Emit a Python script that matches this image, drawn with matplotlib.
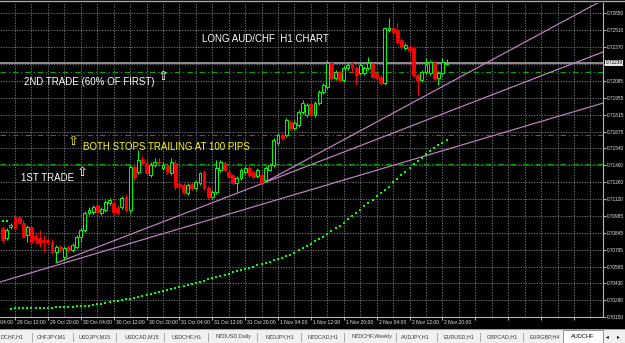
import numpy as np
import matplotlib
matplotlib.use("Agg")
import matplotlib.pyplot as plt
import matplotlib.transforms as mtransforms
from matplotlib.patches import Rectangle
from matplotlib.lines import Line2D

plt.rcParams['font.family'] = ['Liberation Sans', 'DejaVu Sans']

# AUDCHF H1 bars, left to right
opens = [0.70883, 0.70801, 0.70891, 0.70973, 0.70973, 0.70924, 0.70825, 0.70891, 0.70817, 0.70801,
         0.70784, 0.70784, 0.70768, 0.70686, 0.70727, 0.70644, 0.70727, 0.70702, 0.70727, 0.70809,
         0.70866, 0.71006, 0.71014, 0.71072, 0.71006, 0.71031, 0.71088, 0.71088, 0.71047, 0.71055,
         0.71138, 0.71031, 0.71384, 0.71343, 0.71450, 0.71417, 0.71318, 0.71401, 0.71425, 0.71376,
         0.71401, 0.71335, 0.71417, 0.71245, 0.71236, 0.71171, 0.71245, 0.71212, 0.71253, 0.71343,
         0.71212, 0.71138, 0.71179, 0.71360, 0.71417, 0.71343, 0.71318, 0.71253, 0.71294, 0.71343,
         0.71376, 0.71343, 0.71310, 0.71318, 0.71277, 0.71360, 0.71401, 0.71582, 0.71647, 0.71647,
         0.71754, 0.71705, 0.71729, 0.71836, 0.71812, 0.71902, 0.71812, 0.71910, 0.72001, 0.72042,
         0.72239, 0.72116, 0.72165, 0.72099, 0.72198, 0.72239, 0.72198, 0.72157, 0.72157, 0.72198,
         0.72231, 0.72157, 0.72124, 0.72075, 0.72510, 0.72527, 0.72510, 0.72428, 0.72362, 0.72371,
         0.72362, 0.72140, 0.72099, 0.72165, 0.72157, 0.72239, 0.72116, 0.72157, 0.72231]
highs = [0.70899, 0.70883, 0.70924, 0.70990, 0.70981, 0.70949, 0.70907, 0.70907, 0.70842, 0.70866,
         0.70825, 0.70801, 0.70792, 0.70743, 0.70743, 0.70735, 0.70743, 0.70760, 0.70825, 0.70883,
         0.71023, 0.71055, 0.71072, 0.71105, 0.71055, 0.71113, 0.71129, 0.71113, 0.71072, 0.71146,
         0.71162, 0.71401, 0.71401, 0.71524, 0.71475, 0.71442, 0.71425, 0.71458, 0.71458, 0.71425,
         0.71417, 0.71458, 0.71442, 0.71253, 0.71253, 0.71253, 0.71261, 0.71277, 0.71343, 0.71360,
         0.71228, 0.71195, 0.71442, 0.71442, 0.71434, 0.71368, 0.71327, 0.71310, 0.71376, 0.71392,
         0.71392, 0.71360, 0.71376, 0.71335, 0.71392, 0.71417, 0.71623, 0.71664, 0.71664, 0.71787,
         0.71771, 0.71771, 0.71853, 0.71935, 0.71910, 0.71919, 0.71927, 0.72017, 0.72075, 0.72264,
         0.72256, 0.72182, 0.72182, 0.72214, 0.72239, 0.72247, 0.72214, 0.72239, 0.72214, 0.72288,
         0.72247, 0.72173, 0.72140, 0.72535, 0.72609, 0.72560, 0.72568, 0.72445, 0.72404, 0.72387,
         0.72379, 0.72157, 0.72182, 0.72280, 0.72264, 0.72256, 0.72173, 0.72280, 0.72272]
lows = [0.70760, 0.70784, 0.70875, 0.70875, 0.70916, 0.70801, 0.70768, 0.70760, 0.70751, 0.70727,
        0.70686, 0.70743, 0.70669, 0.70603, 0.70686, 0.70620, 0.70686, 0.70686, 0.70710, 0.70768,
        0.70850, 0.70990, 0.70998, 0.71006, 0.70990, 0.71014, 0.71072, 0.70998, 0.70990, 0.71039,
        0.71014, 0.71006, 0.71277, 0.71327, 0.71401, 0.71318, 0.71302, 0.71384, 0.71392, 0.71360,
        0.71327, 0.71318, 0.71195, 0.71097, 0.71162, 0.71154, 0.71195, 0.71195, 0.71236, 0.71195,
        0.71121, 0.71121, 0.71162, 0.71343, 0.71343, 0.71294, 0.71236, 0.71179, 0.71277, 0.71327,
        0.71302, 0.71286, 0.71294, 0.71245, 0.71261, 0.71351, 0.71384, 0.71565, 0.71606, 0.71631,
        0.71688, 0.71688, 0.71713, 0.71820, 0.71795, 0.71795, 0.71795, 0.71894, 0.71984, 0.72025,
        0.72099, 0.72099, 0.72083, 0.72083, 0.72182, 0.72157, 0.72058, 0.72140, 0.72140, 0.72182,
        0.72108, 0.72099, 0.72058, 0.72058, 0.72494, 0.72469, 0.72395, 0.72354, 0.72346, 0.72330,
        0.72124, 0.71976, 0.72083, 0.72149, 0.72140, 0.72099, 0.72058, 0.72140, 0.72223]
closes = [0.70784, 0.70866, 0.70907, 0.70883, 0.70924, 0.70809, 0.70891, 0.70768, 0.70784, 0.70760,
          0.70768, 0.70768, 0.70686, 0.70727, 0.70718, 0.70718, 0.70702, 0.70743, 0.70809, 0.70866,
          0.71006, 0.71031, 0.71055, 0.71014, 0.71039, 0.71097, 0.71113, 0.71014, 0.71006, 0.71129,
          0.71031, 0.71384, 0.71302, 0.71442, 0.71417, 0.71335, 0.71401, 0.71425, 0.71417, 0.71401,
          0.71343, 0.71425, 0.71220, 0.71228, 0.71179, 0.71236, 0.71212, 0.71261, 0.71335, 0.71212,
          0.71138, 0.71179, 0.71376, 0.71425, 0.71360, 0.71302, 0.71253, 0.71294, 0.71360, 0.71376,
          0.71318, 0.71302, 0.71360, 0.71261, 0.71376, 0.71401, 0.71606, 0.71647, 0.71623, 0.71771,
          0.71705, 0.71746, 0.71836, 0.71910, 0.71894, 0.71812, 0.71910, 0.72001, 0.72058, 0.72239,
          0.72116, 0.72165, 0.72099, 0.72198, 0.72223, 0.72198, 0.72140, 0.72223, 0.72198, 0.72239,
          0.72124, 0.72116, 0.72075, 0.72527, 0.72527, 0.72494, 0.72412, 0.72371, 0.72387, 0.72346,
          0.72140, 0.72099, 0.72165, 0.72223, 0.72247, 0.72116, 0.72157, 0.72247, 0.72239]

# parabolic SAR: first bars above price, then below from bar 2
sar_above = [0.70941, 0.70941]
sar_below = [0.70221, 0.70222, 0.70223, 0.70224, 0.70224, 0.70225, 0.70226, 0.70227, 0.70228, 0.70228,
             0.70229, 0.70230, 0.70231, 0.70233, 0.70234, 0.70236, 0.70238, 0.70239, 0.70242, 0.70246,
             0.70250, 0.70256, 0.70262, 0.70268, 0.70274, 0.70280, 0.70285, 0.70291, 0.70297, 0.70303,
             0.70307, 0.70316, 0.70324, 0.70332, 0.70340, 0.70349, 0.70357, 0.70365, 0.70373, 0.70381,
             0.70390, 0.70398, 0.70406, 0.70414, 0.70423, 0.70432, 0.70442, 0.70451, 0.70461, 0.70470,
             0.70480, 0.70490, 0.70499, 0.70509, 0.70519, 0.70528, 0.70538, 0.70547, 0.70556, 0.70566,
             0.70576, 0.70585, 0.70595, 0.70606, 0.70617, 0.70628, 0.70639, 0.70650, 0.70661, 0.70681,
             0.70702, 0.70718, 0.70736, 0.70754, 0.70773, 0.70792, 0.70813, 0.70834, 0.70857, 0.70880,
             0.70903, 0.70928, 0.70953, 0.70980, 0.71007, 0.71035, 0.71064, 0.71092, 0.71117, 0.71143,
             0.71171, 0.71195, 0.71220, 0.71261, 0.71286, 0.71319, 0.71343, 0.71376, 0.71409, 0.71434,
             0.71458, 0.71491, 0.71516, 0.71540, 0.71565, 0.71582, 0.71606]

# trade levels
level_second = 0.72165
level_stop = 0.71647
level_first = 0.71409

# trend lines as (bar, price) pairs
trend_top = [(63, 0.71245), (146.1, 0.72757)]
trend_mid = [(13, 0.70595), (146.1, 0.72330)]
trend_low = [(-0.65, 0.70439), (146.1, 0.71910)]

price_ticks = [0.72650, 0.72510, 0.72370, 0.72230, 0.72095, 0.71955, 0.71815, 0.71675, 0.71540, 0.71400,
               0.71260, 0.71120, 0.70985, 0.70845, 0.70705, 0.70565, 0.70430, 0.70290, 0.70150]
time_labels = ["29 Oct 04:00", "29 Oct 12:00", "29 Oct 20:00", "30 Oct 04:00", "30 Oct 12:00",
               "30 Oct 20:00", "31 Oct 04:00", "31 Oct 12:00", "31 Oct 20:00", "1 Nov 04:00",
               "1 Nov 12:00", "1 Nov 20:00", "2 Nov 04:00", "2 Nov 12:00", "2 Nov 20:00"]
tabs = ["DCHF,H1", "CHFJPY,M1", "USDJPY,M15", "USDCAD,M15", "USDCHF,H1", "NZDUSD,Daily", "NZDJPY,H1",
        "NZDCAD,H1", "NZDCHF,Weekly", "AUDJPY,H1", "EURUSD,H1", "GBPCAD,H1", "EURGBP,H4"]
tab_x = [0.5, 37, 79, 125, 172, 215, 265, 308, 352, 401, 443, 487, 530]
tab_sep = [32, 73, 116, 164, 208, 257, 301, 344, 396, 437, 480, 523]
active_tab = "AUDCHF"

W, H = 625, 343
fig = plt.figure(figsize=(W / 100, H / 100), dpi=100, facecolor='black')
ax = fig.add_axes([0, (H - 317.2) / H, 603 / W, (317.2 - 3) / H])
ax.set_facecolor('black')

x = np.arange(len(opens))
o, hi, lo, c = map(np.array, (opens, highs, lows, closes))
up = c >= o

ax.vlines(x[up], lo[up], hi[up], color='#00ff00', lw=0.75, zorder=4)
ax.vlines(x[~up], lo[~up], hi[~up], color='#ff0000', lw=0.75, zorder=4)
ax.bar(x[up], c[up] - o[up], bottom=o[up], width=0.7, color='black',
       edgecolor='#00ff00', lw=0.7, zorder=5)
ax.bar(x[~up], o[~up] - c[~up], bottom=c[~up], width=0.7, color='#ff0000',
       edgecolor='#ff0000', lw=0.6, zorder=5)

# SAR dots
ax.plot(x[:len(sar_above)], sar_above, ls='none', marker='s', ms=1.5, mew=0, color='#00ff00', zorder=3)
ax.plot(x[2:2 + len(sar_below)], sar_below, ls='none', marker='s', ms=1.5, mew=0, color='#00ff00', zorder=3)

# levels
ax.axhline(closes[-1], color='#9a9a9a', lw=1.3, zorder=2)
dd = (0, (5, 2.5, 1.2, 2.5))
ax.axhline(level_second, color='#00a800', lw=0.8, ls=dd, zorder=2)
ax.axhline(level_stop, color='#ff1010', lw=0.8, ls=dd, zorder=2)
ax.axhline(level_first, color='#00a800', lw=0.8, ls=dd, zorder=2)

for tl in (trend_top, trend_mid, trend_low):
    (x0, y0), (x1, y1) = tl
    ax.plot([x0, x1], [y0, y1], color='#c882c8', lw=0.85, zorder=2)

# grid
ax.set_xticks(np.arange(-5, 146, 8))
ax.set_xticks(np.arange(-1, 146, 8), minor=True)
ax.set_yticks(price_ticks)
ax.set_yticklabels(["" if p == 0.72230 else f"{p:.5f}" for p in price_ticks])
ax.set_xlim(-0.65, 146.07)
ax.set_ylim(0.70150, 0.72732)
gstyle = dict(color='#7a8088', lw=0.6, ls=(0, (1.6, 1.6)))
ax.grid(True, which='both', axis='x', **gstyle)
ax.grid(True, which='major', axis='y', **gstyle)
ax.set_axisbelow(True)
ax.tick_params(axis='x', which='major', length=2.5, color='#b0b0b0', labelbottom=False)
ax.tick_params(axis='x', which='minor', length=0)
ax.tick_params(axis='y', left=False, right=True, labelleft=False, labelright=True,
               length=2, color='#b0b0b0', labelsize=3.4, labelcolor='#e8e8e8', pad=1)
for s in ('top', 'left'):
    ax.spines[s].set_visible(False)
for s in ('right', 'bottom'):
    ax.spines[s].set_color('#b8b8b8')
    ax.spines[s].set_linewidth(0.8)

# time labels under the axis (the first one runs off the left edge, as on screen)
ttrans = mtransforms.offset_copy(ax.get_xaxis_transform(), fig=fig, x=2, y=-5.5, units='dots')
for i, lab in enumerate(time_labels):
    ax.text(-5 + 8 * i, 0, lab, transform=ttrans, ha='left', va='center',
            fontsize=3.6, color='#e8e8e8', clip_on=False)

# bid label
btrans = mtransforms.offset_copy(ax.get_yaxis_transform(), fig=fig, x=2.5, y=0, units='dots')
ax.text(1.0, closes[-1], f"{closes[-1]:.5f}", transform=btrans, ha='left', va='center',
        fontsize=3.4, color='black', clip_on=False, zorder=10,
        bbox=dict(facecolor='#e4e4e4', edgecolor='none', pad=0.6))

# annotations
ax.text(48.5, 0.72436, "LONG AUD/CHF  H1 CHART", color='white', fontsize=7, va='center', ha='left', zorder=6)
ax.text(5.2, 0.72083, "2ND TRADE (60% OF FIRST)", color='white', fontsize=7, va='center', ha='left', zorder=6)
ax.text(39.2, 0.72124, "\u21e7", color='white', fontsize=9.5, va='center', ha='center',
        family='DejaVu Sans', zorder=6)
ax.text(17.1, 0.71590, "\u21e7", color='#ffff00', fontsize=9.5, va='center', ha='center',
        family='DejaVu Sans', zorder=6)
ax.text(19.5, 0.71549, "BOTH STOPS TRAILING AT 100 PIPS", color='#ffff00', fontsize=7,
        va='center', ha='left', zorder=6)
ax.text(4.5, 0.71298, "1ST TRADE", color='white', fontsize=7, va='center', ha='left', zorder=6)
ax.text(19.3, 0.71335, "\u21e7", color='white', fontsize=9.5, va='center', ha='center',
        family='DejaVu Sans', zorder=6)

# window top border
fig.add_artist(Line2D([0, 1], [1 - 1.2 / H] * 2, transform=fig.transFigure, color='#a8a8a8', lw=1))

# tab bar
tab_ax = fig.add_axes([0, 0, 1, 14 / H])
tab_ax.set_facecolor('#f0f0f0')
tab_ax.set_xlim(0, W)
tab_ax.set_ylim(14, 0)
tab_ax.set_xticks([])
tab_ax.set_yticks([])
for s in tab_ax.spines.values():
    s.set_visible(False)
tab_ax.axhline(0.4, color='#a0a0a0', lw=0.8)
for name, tx in zip(tabs, tab_x):
    tab_ax.text(tx, 7.5, name, fontsize=3.9, color='#3a3a3a', va='center', ha='left')
for sx in tab_sep:
    tab_ax.plot([sx, sx], [3.5, 11.5], color='#a8a8a8', lw=0.7)
tab_ax.add_patch(Rectangle((563, 0.6), 40, 13.4, facecolor='white', edgecolor='#909090', lw=0.7))
tab_ax.text(571, 7.5, active_tab, fontsize=4.1, color='black', va='center', ha='left')
tab_ax.text(607, 7.5, "\u25c2", fontsize=4, color='black', va='center', ha='center', family='DejaVu Sans')
tab_ax.text(618, 7.5, "\u25b8", fontsize=4, color='black', va='center', ha='center', family='DejaVu Sans')

fig.savefig("out.png", dpi=100, facecolor='black')
